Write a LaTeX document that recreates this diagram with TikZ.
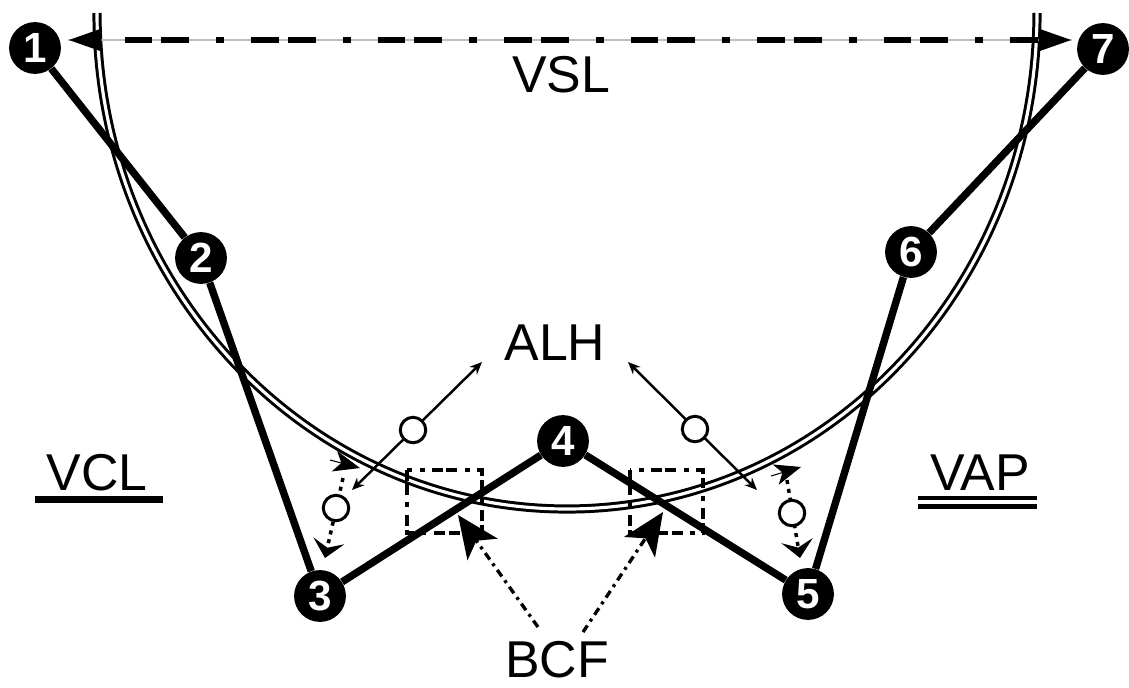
\documentclass[tikz,border=0pt]{standalone}
\usepackage{fontspec}
\setmainfont{Liberation Sans}
\usetikzlibrary{arrows.meta}
\begin{document}
\begin{tikzpicture}[x=0.02cm,y=-0.02cm,
  pt/.style={circle,fill=black,text=white,minimum size=29.5pt,inner sep=0pt,font=\fontsize{24}{24}\selectfont\bfseries},
  lbl/.style={inner sep=0pt,font=\fontsize{29.5}{30}\selectfont},
  conn/.style={line width=4.2pt},
  road/.style={double=white,double distance=1.8pt,line width=1.7pt},
  boxline/.style={line width=2pt,dash pattern=on 6.2pt off 2pt on 6.2pt off 4pt on 2.8pt off 4.5pt},
  vsl/.style={line width=3.3pt,dash pattern=on 15.9pt off 5.1pt on 15.9pt off 15.3pt on 4.5pt off 15.3pt,dash phase=58pt},
  bcf/.style={line width=1.9pt,dash pattern=on 4.5pt off 2.8pt on 1.7pt off 2.8pt,-{Stealth[length=24pt,width=21pt,inset=6pt]}},
  alh/.style={line width=1.4pt,{Stealth[length=7pt,width=6pt]}-{Stealth[length=7pt,width=6pt]}},
  vdot/.style={line width=2pt,dash pattern=on 2.3pt off 2.8pt},
  ring/.style={circle,draw,fill=white,line width=1.7pt,minimum size=14.5pt,inner sep=0pt},
  smallhead/.style={line width=0.6pt,-{Stealth[length=15pt,width=12pt,inset=4pt]}},
  downhead/.style={-{Stealth[length=10pt,width=18pt,inset=4pt]}},
]
\useasboundingbox (0,0) rectangle (1129,687);

% double-line curve
\draw[road] (97,13) .. controls (97,287) and (308,509) .. (567,509)
  .. controls (826,509) and (1037,287) .. (1037,13);

% VSL
\coordinate (vslL) at (68,40);
\coordinate (vslR) at (1072,40);
\draw[line width=0.9pt,black!25] (vslL) -- (vslR);
\draw[vsl,{Triangle[length=19pt,width=12pt]}-{Triangle[length=19pt,width=12pt]}] (vslL) -- (vslR);

% dash-dot boxes
\draw[boxline] (407,470) rectangle (482,533);
\draw[boxline] (630,470) rectangle (703,533);

% numbered nodes
\node[pt] (n1) at (35,48) {1};
\node[pt] (n2) at (201,258) {2};
\node[pt] (n3) at (320,596) {3};
\node[pt] (n4) at (563,441) {4};
\node[pt] (n5) at (808,594) {5};
\node[pt] (n6) at (911,252) {6};
\node[pt] (n7) at (1103,49) {7};

\draw[conn] (n1) -- (n2);
\draw[conn] (n2) -- (n3);
\draw[conn] (n3) -- (n4);
\draw[conn] (n4) -- (n5);
\draw[conn] (n5) -- (n6);
\draw[conn] (n6) -- (n7);

% ALH arrows with rings
\coordinate (alhL1) at (352,490);
\coordinate (alhL2) at (482,362);
\coordinate (alhR1) at (757,490);
\coordinate (alhR2) at (628,362);
\draw[alh] (alhL1) -- (alhL2);
\draw[alh] (alhR1) -- (alhR2);
\node[ring] (rL) at (413,430) {};
\node[ring] (rR) at (695,429) {};

% small vertical dotted arrows with rings
\coordinate (vL1) at (343,478);
\coordinate (vL2) at (325,558);
\coordinate (vR1) at (787,480);
\coordinate (vR2) at (800,558);
\draw[vdot,downhead] (vL1) -- (vL2);
\draw[vdot,downhead] (vR1) -- (vR2);
\node[ring] (rL2) at (336,508) {};
\node[ring] (rR2) at (792,513) {};

% small heads along the curve
\coordinate (hL1) at (330,460);
\coordinate (hL2) at (360,468);
\coordinate (hR1) at (771,476);
\coordinate (hR2) at (801,467);
\draw[smallhead] (hL1) -- (hL2);
\draw[smallhead] (hR1) -- (hR2);

% labels
\node[lbl] (vsl) at (561,75) {VSL};
\node[lbl] (alh) at (555,343) {ALH};
\node[lbl] (bcf) at (557,660) {BCF};
\node[lbl] (vcl) at (97,473) {VCL};
\node[lbl] (vap) at (980,473) {VAP};

% underlines
\draw[line width=4pt] (35,499.5) -- (163,499.5);
\draw[line width=2.3pt] (918,498) -- (1037,498);
\draw[line width=2.3pt] (918,506.5) -- (1037,506.5);

% BCF arrows
\coordinate (bL1) at (538,627);
\coordinate (bL2) at (458,515);
\coordinate (bR1) at (583,632);
\coordinate (bR2) at (663,512);
\draw[bcf] (bL1) -- (bL2);
\draw[bcf] (bR1) -- (bR2);
\end{tikzpicture}
\end{document}
